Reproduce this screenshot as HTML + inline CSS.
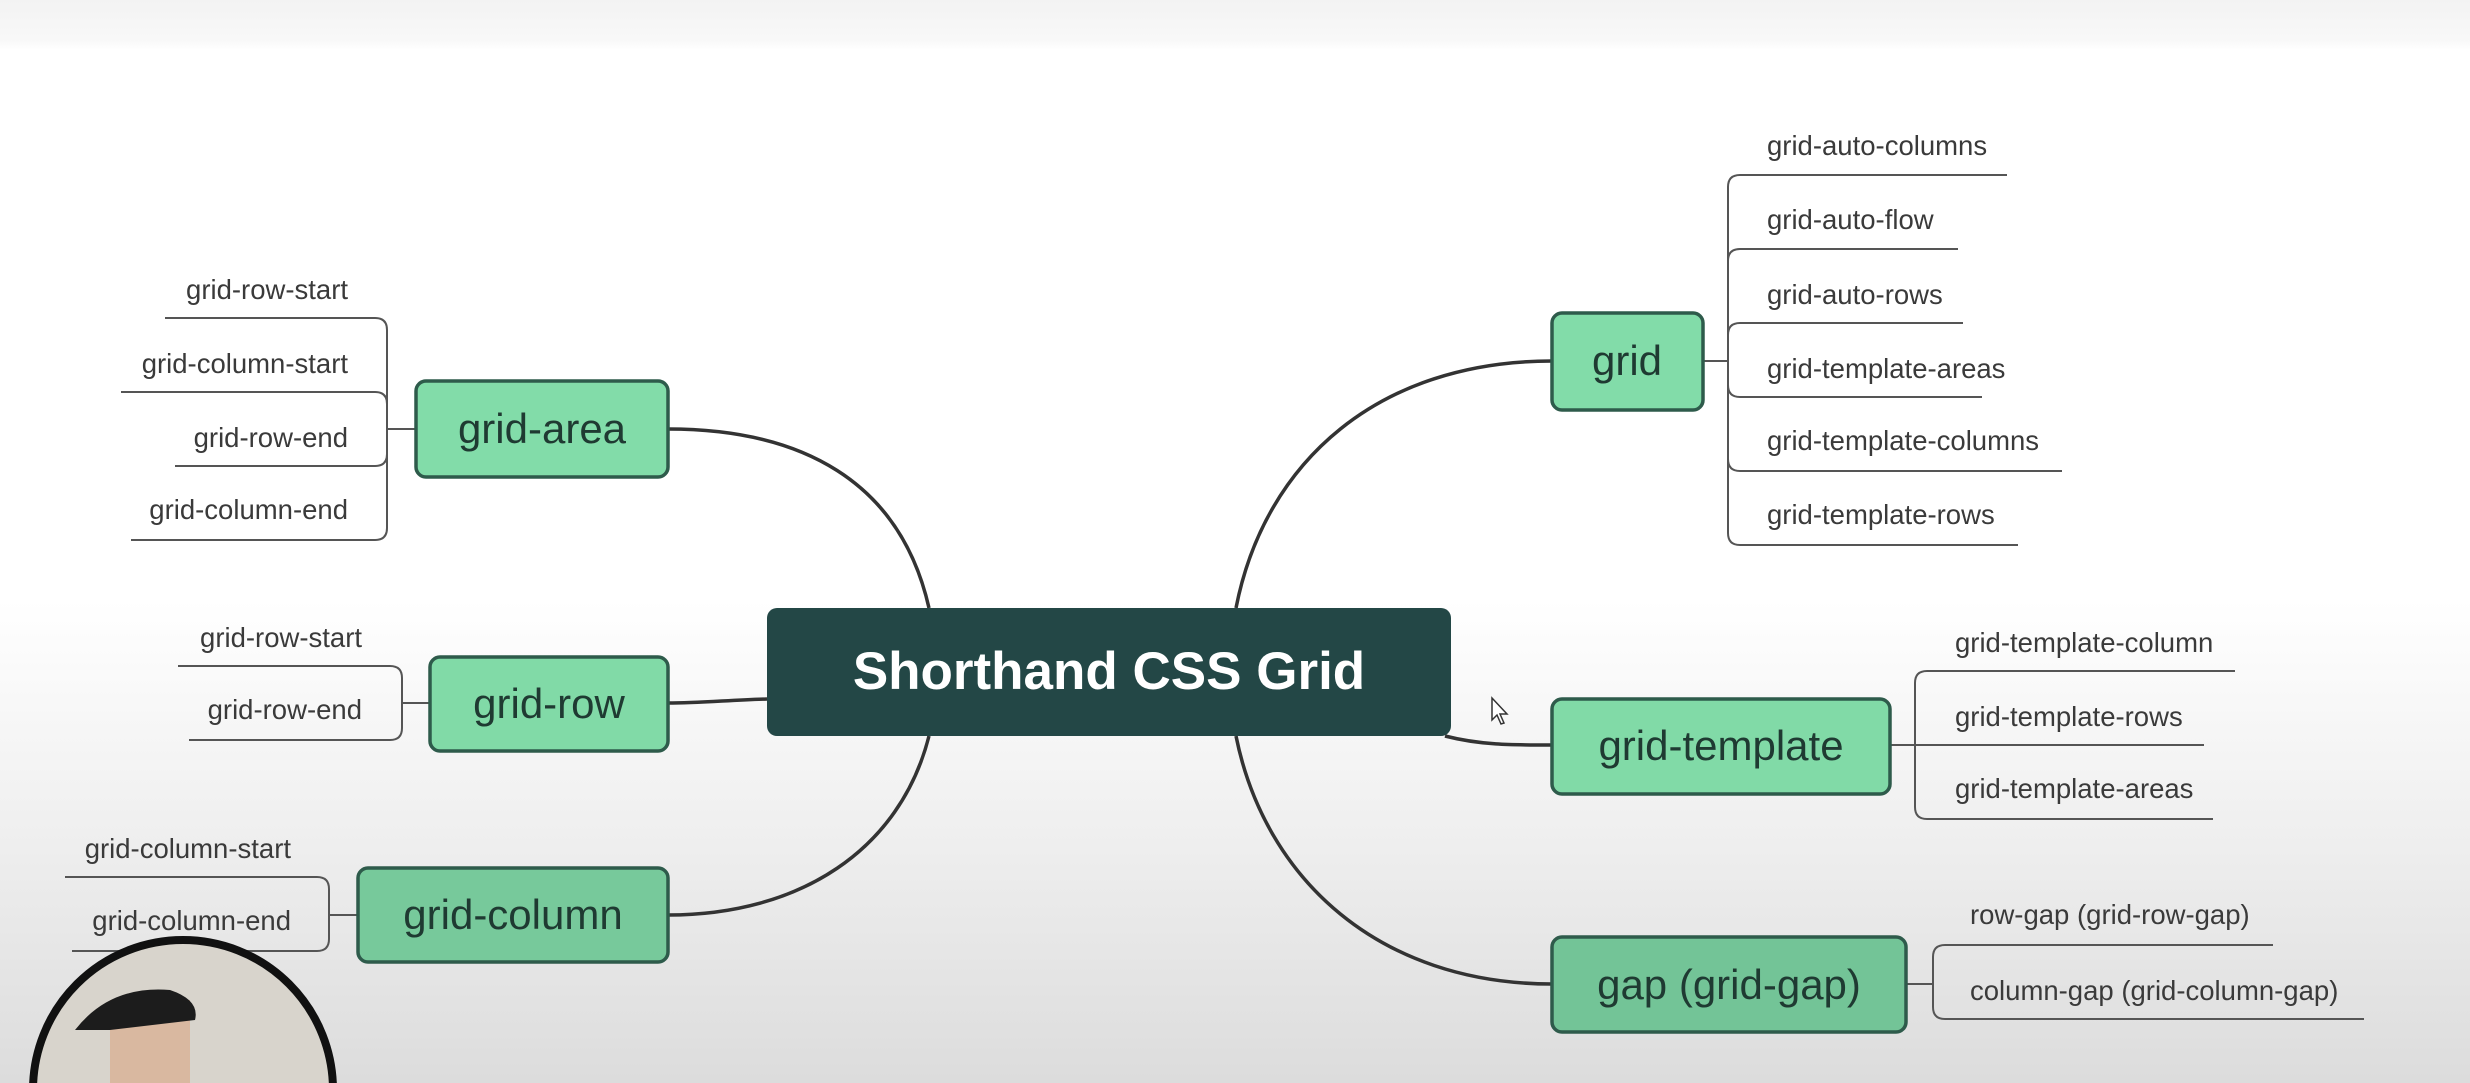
<!DOCTYPE html>
<html><head><meta charset="utf-8"><style>
html,body{margin:0;padding:0;width:2470px;height:1083px;overflow:hidden}
body{position:relative;font-family:"Liberation Sans","DejaVu Sans",sans-serif;
background:linear-gradient(to bottom,#f3f3f3 0px,#f8f8f8 40px,#fff 50px,#fff 600px,#f0f0f0 820px,#dcdcdc 1083px);}
svg{position:absolute;left:0;top:0;display:block}
</style></head><body>
<svg width="2470" height="1083" viewBox="0 0 2470 1083" font-family="Liberation Sans, DejaVu Sans, sans-serif">
<g fill="none" stroke="#333" stroke-width="3.5">
<path d="M929,608 C900,480 800,429 668,429"/>
<path d="M1236,608 C1265,460 1380,361 1552,361"/>
<path d="M668,703 C700,703 730,700 767,699"/>
<path d="M1445,736 C1480,745 1510,745 1552,745"/>
<path d="M929,736 C900,850 800,915 668,915"/>
<path d="M1236,736 C1265,880 1380,984 1552,984"/>
</g>
<g fill="none" stroke="#555" stroke-width="2">
<path d="M165,318 H375 Q387,318 387,330 V528 Q387,540 375,540 H131"/>
<path d="M121,392 H375 Q387,392 387,404 V454 Q387,466 375,466 H175"/>
<path d="M387,429 H416"/>
<path d="M178,666 H390 Q402,666 402,678 V728 Q402,740 390,740 H189"/>
<path d="M402,703 H430"/>
<path d="M65,877 H317 Q329,877 329,889 V939 Q329,951 317,951 H72"/>
<path d="M329,915 H358"/>
<path d="M2007,175 H1740 Q1728,175 1728,187 V533 Q1728,545 1740,545 H2018"/>
<path d="M1958,249 H1740 Q1728,249 1728,261"/>
<path d="M1963,323 H1740 Q1728,323 1728,335"/>
<path d="M1982,397 H1740 Q1728,397 1728,385"/>
<path d="M2062,471 H1740 Q1728,471 1728,459"/>
<path d="M1703,361 H1728"/>
<path d="M2235,671 H1927 Q1915,671 1915,683 V807 Q1915,819 1927,819 H2213"/>
<path d="M1890,745 H2204"/>
<path d="M2273,945 H1945 Q1933,945 1933,957 V1007 Q1933,1019 1945,1019 H2364"/>
<path d="M1906,984 H1933"/>
</g>
<g font-size="27.5" fill="#3a3a3a">
<g text-anchor="end">
<text x="348" y="299">grid-row-start</text>
<text x="348" y="373">grid-column-start</text>
<text x="348" y="447">grid-row-end</text>
<text x="348" y="519">grid-column-end</text>
<text x="362" y="647">grid-row-start</text>
<text x="362" y="719">grid-row-end</text>
<text x="291" y="858">grid-column-start</text>
<text x="291" y="930">grid-column-end</text>
</g>
<text x="1767" y="155">grid-auto-columns</text>
<text x="1767" y="229">grid-auto-flow</text>
<text x="1767" y="304">grid-auto-rows</text>
<text x="1767" y="378">grid-template-areas</text>
<text x="1767" y="450">grid-template-columns</text>
<text x="1767" y="524">grid-template-rows</text>
<text x="1955" y="652">grid-template-column</text>
<text x="1955" y="726">grid-template-rows</text>
<text x="1955" y="798">grid-template-areas</text>
<text x="1970" y="924">row-gap (grid-row-gap)</text>
<text x="1970" y="1000">column-gap (grid-column-gap)</text>
</g>
<g stroke="#2e5b4b" stroke-width="3.5">
<rect x="416" y="381" width="252" height="96" rx="10" fill="#82dca9"/>
<rect x="430" y="657" width="238" height="94" rx="10" fill="#81daa7"/>
<rect x="358" y="868" width="310" height="94" rx="10" fill="#77c99b"/>
<rect x="1552" y="313" width="151" height="97" rx="10" fill="#82dca9"/>
<rect x="1552" y="699" width="338" height="95" rx="10" fill="#81daa7"/>
<rect x="1552" y="937" width="354" height="95" rx="10" fill="#73c497"/>
</g>
<rect x="767" y="608" width="684" height="128" rx="10" fill="#234746"/>
<text x="1109" y="689" font-size="53" font-weight="bold" fill="#fff" text-anchor="middle">Shorthand CSS Grid</text>
<g font-size="42" fill="#1f3a32" text-anchor="middle">
<text x="542" y="443">grid-area</text>
<text x="549" y="718">grid-row</text>
<text x="513" y="929">grid-column</text>
<text x="1627" y="375">grid</text>
<text x="1721" y="760">grid-template</text>
<text x="1729" y="999">gap (grid-gap)</text>
</g>
<path d="M1492,698 v22 l5,-5 l4,9 l3,-1 l-4,-9 l7,0 z" fill="#fff" stroke="#333" stroke-width="1.5"/>
<circle cx="183" cy="1090" r="150" fill="#d8d4cc" stroke="#111" stroke-width="8"/>
<rect x="110" y="1000" width="80" height="83" fill="#d9b8a0"/>
<path d="M75,1030 Q110,985 170,990 Q200,1000 195,1020 L110,1030 Z" fill="#1c1c1c"/>
</svg>
</body></html>
